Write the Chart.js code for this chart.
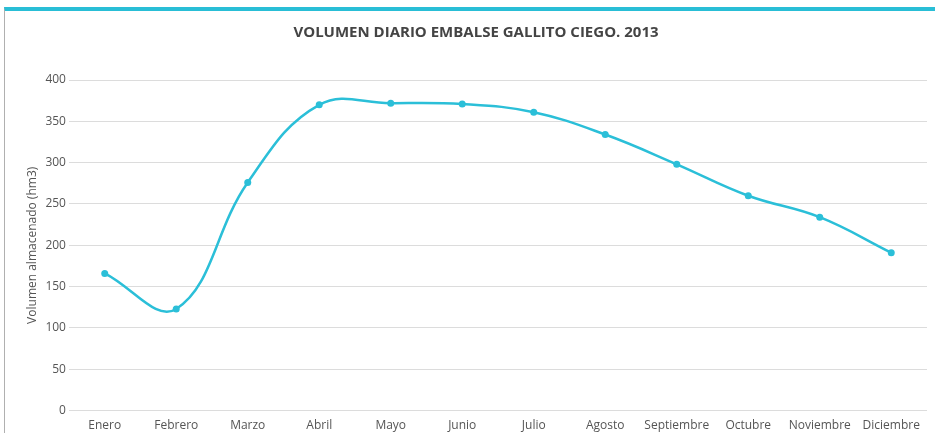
<!DOCTYPE html>
<html>
<head>
<meta charset="utf-8">
<script src="https://cdn.jsdelivr.net/npm/chart.js@4/dist/chart.umd.min.js"></script>
<style>
    html, body { margin: 0; padding: 0; background: #fff; }
    #frame {
        position: absolute; left: 4px; top: 7px; width: 931px; height: 426px;
        border-top: 4px solid #29bed6; border-left: 1px solid #b0b0b0; box-sizing: border-box;
    }
    #wrap { position: absolute; left: 0; top: 0; width: 930px; height: 422px; }
</style>
</head>
<body>
<div id="frame"><div id="wrap"><canvas id="chart"></canvas></div></div>
<script>
var MONTHS = ['Enero','Febrero','Marzo','Abril','Mayo','Junio','Julio','Agosto','Septiembre','Octubre','Noviembre','Diciembre'];
var VOLUMEN = [166, 123, 276, 370, 372, 371, 361, 334, 298, 260, 234, 191];
var Y_TICKS = [0, 50, 100, 150, 200, 250, 300, 350, 400];

var FONT = "'Open Sans', 'DejaVu Sans', sans-serif";
var LINE = '#2bbfd8';

new Chart(document.getElementById('chart'), {
    type: 'line',
    data: {
        labels: MONTHS,
        datasets: [{
            label: 'Volumen', data: VOLUMEN,
            borderColor: LINE, backgroundColor: LINE, borderWidth: 2.5,
            pointRadius: 3.5, pointBackgroundColor: LINE, pointBorderWidth: 0,
            tension: 0.4, fill: false
        }]
    },
    options: {
        responsive: true, maintainAspectRatio: false, animation: false,
        layout: { padding: { top: 0, right: 8, bottom: 0, left: 20 } },
        plugins: {
            legend: { display: false },
            tooltip: { enabled: false },
            title: {
                display: true, text: 'VOLUMEN DIARIO EMBALSE GALLITO CIEGO. 2013',
                color: '#444', font: { family: FONT, size: 15, weight: 'bold' },
                padding: { top: 13, bottom: 38 }
            }
        },
        scales: {
            x: {
                offset: true,
                grid: { display: false },
                border: { display: false },
                ticks: { color: '#555', font: { family: FONT, size: 12 }, padding: 0, maxRotation: 0, autoSkip: false }
            },
            y: {
                min: 0, max: 400,
                afterBuildTicks: function (axis) { axis.ticks = Y_TICKS.map(function (v) { return { value: v }; }); },
                grid: { color: '#dcdcdc', lineWidth: 1, drawTicks: false },
                border: { display: false },
                ticks: { color: '#555', font: { family: FONT, size: 12 }, padding: 3 },
                title: {
                    display: true, text: 'Volumen almacenado (hm3)',
                    color: '#555', font: { family: FONT, size: 12 }, padding: { top: 0, bottom: 3 }
                }
            }
        }
    }
});
</script>
</body>
</html>
